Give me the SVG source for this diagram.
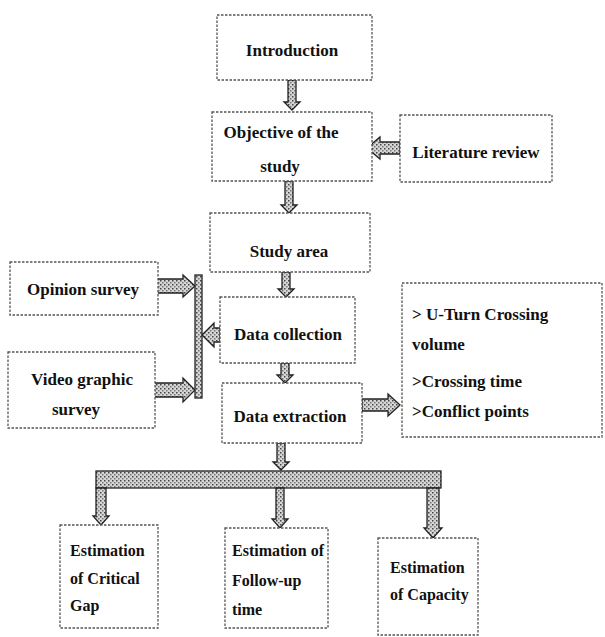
<svg xmlns="http://www.w3.org/2000/svg" width="605" height="637" viewBox="0 0 605 637">
<style>
.box{fill:#fff;stroke:#555;stroke-width:1.3;stroke-dasharray:2.5 1.5}
.t{font-family:"Liberation Serif","Times New Roman",serif;font-weight:bold;font-size:17px;fill:#111}
.s{font-size:16px}
.c{text-anchor:middle}
.arr{fill:url(#st);stroke:#222;stroke-width:1.3;stroke-linejoin:miter}
</style>
<defs>
<pattern id="st" width="4" height="4" patternUnits="userSpaceOnUse">
<rect width="4" height="4" fill="#d6d6d6"/>
<rect width="1.5" height="1.5" fill="#444"/>
<rect x="2" y="2" width="1.5" height="1.5" fill="#777"/>
</pattern>
</defs>
<rect width="605" height="637" fill="#fff"/>

<g id="connectors">
<polygon class="arr" points="288,80 296,80 296,102 300,102 292,110 284,102 288,102"/>
<polygon class="arr" points="285,181 293,181 293,205 297,205 289,213 281,205 285,205"/>
<polygon class="arr" points="282,272 290,272 290,289 294,289 286,297 278,289 282,289"/>
<polygon class="arr" points="281,363 289,363 289,375 293,375 285,383 277,375 281,375"/>
<polygon class="arr" points="277,443 285,443 285,462 289,462 281,470 273,462 277,462"/>
<polygon class="arr" points="367,148 380,137 380,142 400,142 400,154 380,154 380,159"/>
<polygon class="arr" points="157,279 183,279 183,275 195,286 183,297 183,293 157,293"/>
<polygon class="arr" points="153,383 183,383 183,378 195,390 183,402 183,397 153,397"/>
<rect class="arr" x="195" y="275" width="7" height="123"/>
<polygon class="arr" points="202,335 214,323 214,328 220,328 220,342 214,342 214,347"/>
<polygon class="arr" points="362,399 388,399 388,394 400,405 388,416 388,411 362,411"/>
<rect class="arr" x="96" y="471" width="345" height="17"/>
<polygon class="arr" points="96,488 106,488 106,516 109,516 101,525 93,516 96,516"/>
<polygon class="arr" points="276,488 284,488 284,519 288,519 280,528 272,519 276,519"/>
<polygon class="arr" points="427,488 439,488 439,528 442,528 433,538 424,528 427,528"/>
</g>

<g id="introduction">
<rect class="box" x="217" y="15" width="155" height="65"/>
<text class="t c" x="292" y="56">Introduction</text>
</g>
<g id="objective">
<rect class="box" x="212" y="112" width="160" height="69"/>
<text class="t c" x="281" y="138">Objective of the</text>
<text class="t c" x="280" y="172">study</text>
</g>
<g id="literature">
<rect class="box" x="400" y="115" width="152" height="67"/>
<text class="t c" x="476" y="158">Literature review</text>
</g>
<g id="study-area">
<rect class="box" x="210" y="213" width="160" height="59"/>
<text class="t c" x="289" y="257">Study area</text>
</g>
<g id="opinion-survey">
<rect class="box" x="10" y="262" width="148" height="53"/>
<text class="t c" x="83" y="295">Opinion survey</text>
</g>
<g id="data-collection">
<rect class="box" x="220" y="297" width="135" height="66"/>
<text class="t c" x="288" y="340">Data collection</text>
</g>
<g id="video-survey">
<rect class="box" x="8" y="352" width="147" height="76"/>
<text class="t c" x="82" y="385">Video graphic</text>
<text class="t c" x="76" y="415">survey</text>
</g>
<g id="data-extraction">
<rect class="box" x="222" y="383" width="140" height="60"/>
<text class="t c" x="290" y="422">Data extraction</text>
</g>
<g id="outputs">
<rect class="box" x="402" y="283" width="200" height="154"/>
<text class="t" x="412" y="320">&gt; U-Turn Crossing</text>
<text class="t" x="412" y="350">volume</text>
<text class="t" x="412" y="387">&gt;Crossing time</text>
<text class="t" x="412" y="417">&gt;Conflict points</text>
</g>
<g id="critical-gap">
<rect class="box" x="60" y="525" width="98" height="103"/>
<text class="t s" x="70" y="556">Estimation</text>
<text class="t s" x="70" y="584">of Critical</text>
<text class="t s" x="70" y="611">Gap</text>
</g>
<g id="follow-up">
<rect class="box" x="225" y="528" width="103" height="100"/>
<text class="t s" x="232" y="556">Estimation of</text>
<text class="t s" x="232" y="586">Follow-up</text>
<text class="t s" x="232" y="615">time</text>
</g>
<g id="capacity">
<rect class="box" x="378" y="538" width="100" height="97"/>
<text class="t s" x="390" y="573">Estimation</text>
<text class="t s" x="390" y="600">of Capacity</text>
</g>
</svg>
